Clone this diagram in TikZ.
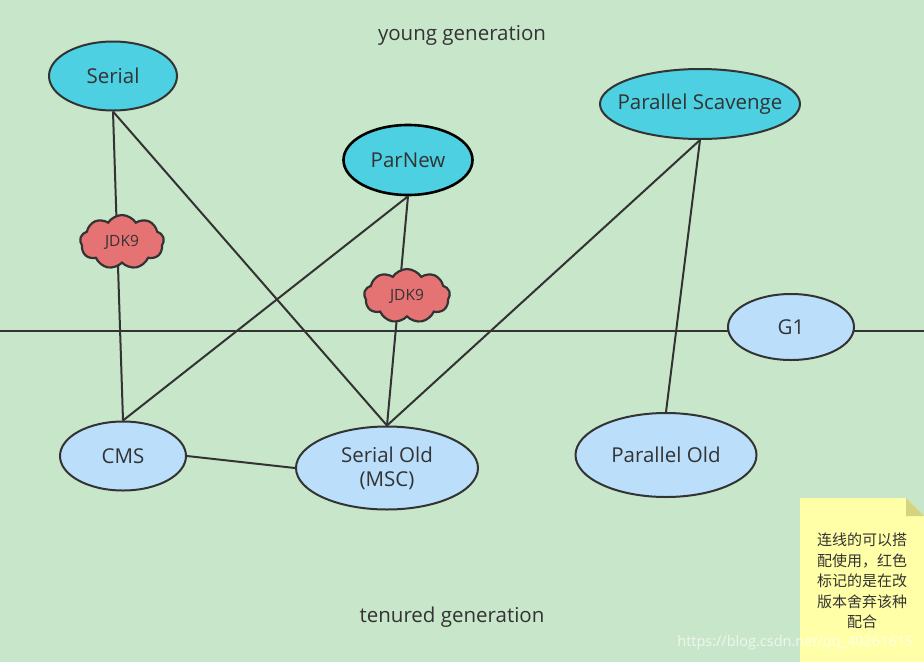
\documentclass[tikz,border=0pt]{standalone}
\usepackage{fontspec}
\setmainfont{Open Sans}
\newfontfamily\cjkfont{Noto Sans CJK SC}
\usetikzlibrary{shapes.geometric,shapes.symbols}

\definecolor{bggreen}{RGB}{200,230,201}
\definecolor{youngcyan}{RGB}{77,208,225}
\definecolor{tenuredblue}{RGB}{187,222,251}
\definecolor{cloudred}{RGB}{229,115,115}
\definecolor{linegray}{RGB}{51,51,51}
\definecolor{notepaper}{RGB}{255,255,168}
\definecolor{notefold}{RGB}{212,212,128}

\begin{document}
\begin{tikzpicture}
            [x=1pt, y=-1pt,
            young/.style={ellipse, draw=linegray, line width=2pt, fill=youngcyan, inner sep=0pt, text=linegray, font=\fontsize{20.5}{24}\selectfont},
            tenured/.style={ellipse, draw=linegray, line width=2pt, fill=tenuredblue, inner sep=0pt, text=linegray, font=\fontsize{20.5}{24}\selectfont, align=center},
            dropped/.style={cloud, cloud puffs=9, cloud puff arc=115, draw=linegray, line width=2.2pt, fill=cloudred, inner sep=0pt, text=linegray, font=\fontsize{15.5}{18}\selectfont},
            label/.style={text=linegray, font=\fontsize{20.5}{24}\selectfont},
            edge/.style={line width=2pt, linegray}]

            % Background and frame
            \fill[bggreen] (0,0) rectangle (924,662);
            \useasboundingbox (0,0) rectangle (924,662);

            % Boundary between the generations
            \coordinate (left) at (0,331);
            \coordinate (right) at (924,331);
            \draw[edge] (left) -- (right);

            \node[label] (younglbl) at (462,35) {young generation};
            \node[label] (tenuredlbl) at (452,617) {tenured generation};

            \node[young, minimum width=128pt, minimum height=69pt] (serial) at (113,76) {Serial};
            \node[young, minimum width=129pt, minimum height=70pt, draw=black, line width=2.6pt] (parnew) at (408,160) {ParNew};
            \node[young, minimum width=200pt, minimum height=70pt, inner xsep=-12pt] (scavenge) at (700,104) {Parallel Scavenge};
            \node[tenured, minimum width=126pt, minimum height=66pt] (g1) at (791,327) {G1};
            \node[tenured, minimum width=126pt, minimum height=69pt] (cms) at (123,456) {CMS};
            \node[tenured, minimum width=182pt, minimum height=83pt] (serialold) at (387,468) {Serial Old\\(MSC)};
            \node[tenured, minimum width=181pt, minimum height=84pt] (parold) at (666,455) {Parallel Old};

            % Collector pairs
            \draw[edge] (serial.south) -- (cms.north);
            \draw[edge] (serial.south) -- (serialold.north);
            \draw[edge] (parnew.south) -- (cms.north);
            \draw[edge] (parnew.south) -- (serialold.north);
            \draw[edge] (scavenge.south) -- (serialold.north);
            \draw[edge] (scavenge.south) -- (parold.north);
            \draw[edge] (cms.east) -- (serialold.west);

            % Pairs dropped in JDK9
            \node[dropped, minimum width=84pt, minimum height=50pt] (jdkleft) at (122,242) {JDK9};
            \node[dropped, minimum width=86pt, minimum height=52pt] (jdkright) at (407,296) {JDK9};

            % Sticky note
            \fill[notepaper] (800,498) -- (906,498) -- (924,516) -- (924,662) -- (800,662) -- cycle;
            \fill[notefold] (906,498) -- (924,516) -- (906,516) -- cycle;
            \node[text=linegray, align=center, font=\cjkfont\fontsize{15}{20.5}\selectfont] (note) at (862,581)
                {连线的可以搭\\配使用，红色\\标记的是在改\\版本舍弃该种\\配合};

            \node[text=white, opacity=0.7, font=\fontsize{14.5}{17}\selectfont, anchor=east] (mark) at (917,643) {https://blog.csdn.net/qq\_40261615};

        \end{tikzpicture}
\end{document}
